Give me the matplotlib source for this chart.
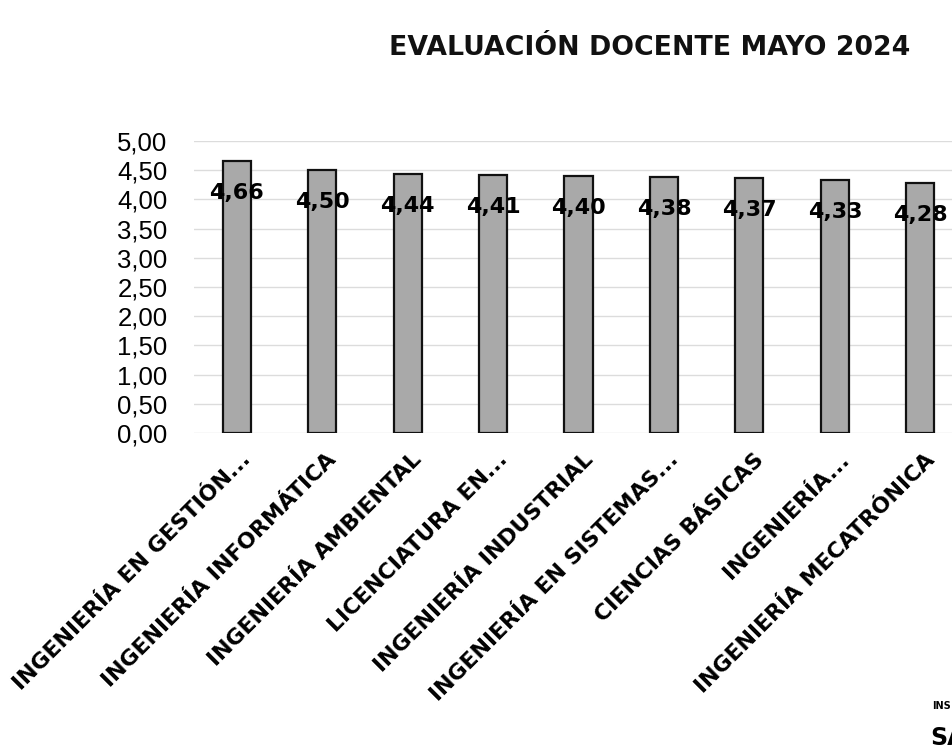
import matplotlib
matplotlib.use("Agg")
import matplotlib.pyplot as plt
from matplotlib.ticker import FuncFormatter

categories = ["INGENIERÍA EN GESTIÓN...", "INGENIERÍA INFORMÁTICA", "INGENIERÍA AMBIENTAL",
              "LICENCIATURA EN...", "INGENIERÍA INDUSTRIAL", "INGENIERÍA EN SISTEMAS...",
              "CIENCIAS BÁSICAS", "INGENIERÍA...", "INGENIERÍA MECATRÓNICA"]
values = [4.66, 4.50, 4.44, 4.41, 4.40, 4.38, 4.37, 4.33, 4.28]
yticks = [0, 0.5, 1, 1.5, 2, 2.5, 3, 3.5, 4, 4.5, 5]
title = "EVALUACIÓN DOCENTE MAYO 2024"

W, H = 953, 750
fig = plt.figure(figsize=(W/100, H/100), dpi=100)
fig.patch.set_facecolor("white")

x0, x1 = 194, 963
yb, yt = 433, 141
ax = fig.add_axes([x0/W, 1 - yb/H, (x1 - x0)/W, (yb - yt)/H])
ax.set_facecolor("white")

xs = list(range(len(categories)))
ax.bar(xs, values, width=0.33, color="#a9a9a9", edgecolor="#111111", linewidth=1.6, zorder=3)
ax.set_xlim(-0.5, len(categories) - 0.5)
ax.set_ylim(0, 5)
ax.set_yticks(yticks)
ax.yaxis.set_major_formatter(FuncFormatter(lambda v, p: f"{v:.2f}".replace(".", ",")))
ax.grid(axis="y", color="#dcdcdc", linewidth=1.0, zorder=0)
for s in ax.spines.values():
    s.set_visible(False)
ax.tick_params(axis="y", length=0, pad=19, labelsize=18.5)
for lab in ax.get_yticklabels():
    lab.set_fontfamily("Liberation Sans")

ax.set_xticks(xs)
ax.set_xticklabels([])
ax.tick_params(axis="x", length=0)

for x, v in zip(xs, values):
    ax.annotate(f"{v:.2f}".replace(".", ","), (x, v), xytext=(0, -23), textcoords="offset points",
                ha="center", va="center", fontsize=16, fontweight="bold",
                fontfamily="DejaVu Sans", color="black", zorder=4)

for x, c in zip(xs, categories):
    ax.annotate(c, (x, 0), xytext=(8, -17), textcoords="offset points",
                ha="right", va="center", rotation=45, rotation_mode="anchor",
                fontsize=15.8, fontweight="bold", fontfamily="DejaVu Sans", color="black",
                annotation_clip=False)

fig.text(650/W, 1 - 48/H, title, ha="center", va="center", fontsize=19.3,
         fontweight="bold", fontfamily="DejaVu Sans", color="#111111")

fig.text(932/W, 1 - 706/H, "INS", ha="left", va="center", fontsize=7,
         fontweight="bold", fontfamily="DejaVu Sans")
fig.text(930/W, 1 - 738/H, "SA", ha="left", va="center", fontsize=17,
         fontweight="bold", fontfamily="DejaVu Sans")

fig.savefig("out.png", dpi=100, facecolor="white")
